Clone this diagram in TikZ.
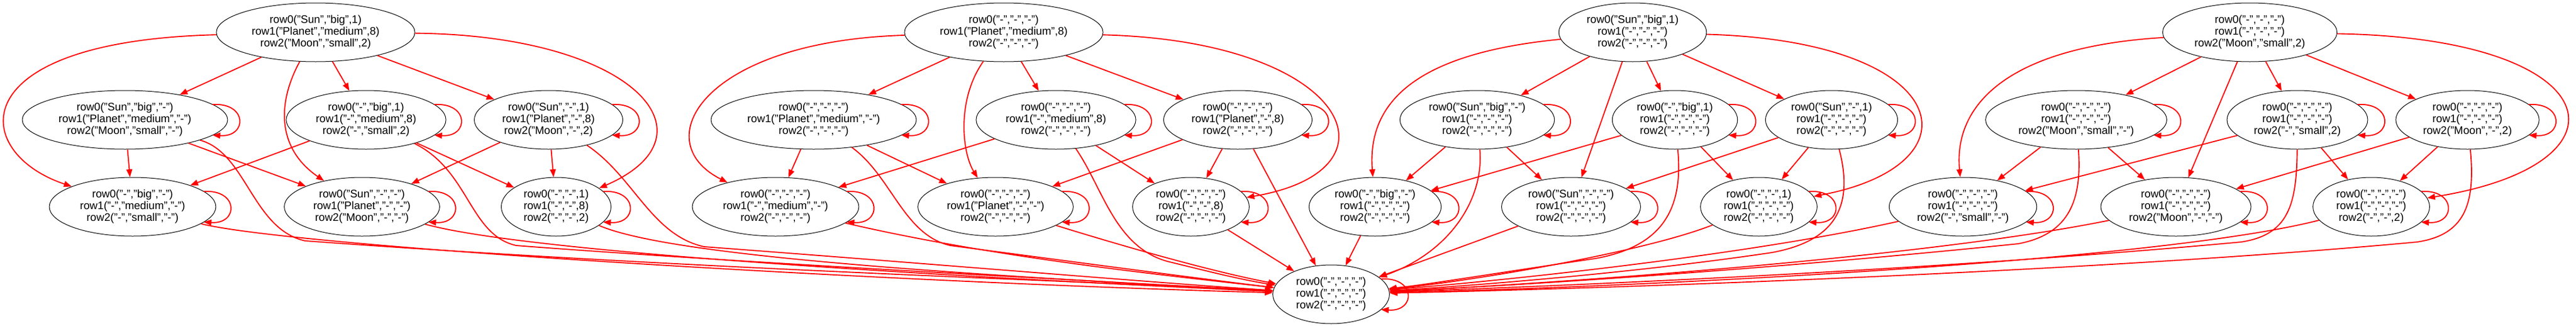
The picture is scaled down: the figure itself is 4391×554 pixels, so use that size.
\documentclass[tikz,border=0pt]{standalone}
\usepackage{fontspec}
\setmainfont{Liberation Sans}
\usetikzlibrary{arrows.meta,calc,shapes.geometric}

\newcommand{\tblrows}[3]{row0(#1)\\row1(#2)\\row2(#3)}
\def\hy{"-"}
\def\allhy{\hy,\hy,\hy}
\newcommand{\selfloop}[1]{\draw[rel] ($(#1.center)!.85!(#1.east)+(0,-26)$) .. controls +(60,-4) and +(60,4) .. ($(#1.center)!.85!(#1.east)+(0,26)$);}

\tikzset{
  tbl/.style={draw,ellipse,line width=0.75pt,align=center,inner xsep=8pt,inner ysep=4.5pt,minimum height=75pt,font=\fontsize{14}{15}\selectfont},
  rel/.style={->,red,line width=1.4pt}
}

\begin{document}
\begin{tikzpicture}[x=0.75pt,y=-0.75pt,>={Triangle[length=10pt,width=7.5pt]}]
\useasboundingbox (0,0) rectangle (4391,554);

\node[tbl] (g1t) at (538,55) {\tblrows{"Sun","big",1}{"Planet","medium",8}{"Moon","small",2}};
\node[tbl] (g1ma) at (213,204) {\tblrows{"Sun","big",\hy}{"Planet","medium",\hy}{"Moon","small",\hy}};
\node[tbl] (g1mb) at (624,204) {\tblrows{\hy,"big",1}{\hy,"medium",8}{\hy,"small",2}};
\node[tbl] (g1mc) at (935,204) {\tblrows{"Sun",\hy,1}{"Planet",\hy,8}{"Moon",\hy,2}};
\node[tbl] (g1ba) at (226,352) {\tblrows{\hy,"big",\hy}{\hy,"medium",\hy}{\hy,"small",\hy}};
\node[tbl] (g1bb) at (617,352) {\tblrows{"Sun",\hy,\hy}{"Planet",\hy,\hy}{"Moon",\hy,\hy}};
\node[tbl] (g1bc) at (948,352) {\tblrows{\hy,\hy,1}{\hy,\hy,8}{\hy,\hy,2}};

\node[tbl] (g2t) at (1711,55) {\tblrows{\allhy}{"Planet","medium",8}{\allhy}};
\node[tbl] (g2ma) at (1387,204) {\tblrows{\allhy}{"Planet","medium",\hy}{\allhy}};
\node[tbl] (g2mb) at (1800,204) {\tblrows{\allhy}{\hy,"medium",8}{\allhy}};
\node[tbl] (g2mc) at (2110,204) {\tblrows{\allhy}{"Planet",\hy,8}{\allhy}};
\node[tbl] (g2ba) at (1322,352) {\tblrows{\allhy}{\hy,"medium",\hy}{\allhy}};
\node[tbl] (g2bb) at (1697,352) {\tblrows{\allhy}{"Planet",\hy,\hy}{\allhy}};
\node[tbl] (g2bc) at (2030,352) {\tblrows{\allhy}{\hy,\hy,8}{\allhy}};

\node[tbl] (g3t) at (2783,55) {\tblrows{"Sun","big",1}{\allhy}{\allhy}};
\node[tbl] (g3ma) at (2518,204) {\tblrows{"Sun","big",\hy}{\allhy}{\allhy}};
\node[tbl] (g3mb) at (2855,204) {\tblrows{\hy,"big",1}{\allhy}{\allhy}};
\node[tbl] (g3mc) at (3122,204) {\tblrows{"Sun",\hy,1}{\allhy}{\allhy}};
\node[tbl] (g3ba) at (2344,352) {\tblrows{\hy,"big",\hy}{\allhy}{\allhy}};
\node[tbl] (g3bb) at (2678,352) {\tblrows{"Sun",\hy,\hy}{\allhy}{\allhy}};
\node[tbl] (g3bc) at (2998,352) {\tblrows{\hy,\hy,1}{\allhy}{\allhy}};

\node[tbl] (g4t) at (3835,55) {\tblrows{\allhy}{\allhy}{"Moon","small",2}};
\node[tbl] (g4ma) at (3539,204) {\tblrows{\allhy}{\allhy}{"Moon","small",\hy}};
\node[tbl] (g4mb) at (3916,204) {\tblrows{\allhy}{\allhy}{\hy,"small",2}};
\node[tbl] (g4mc) at (4206,204) {\tblrows{\allhy}{\allhy}{"Moon",\hy,2}};
\node[tbl] (g4ba) at (3346,352) {\tblrows{\allhy}{\allhy}{\hy,"small",\hy}};
\node[tbl] (g4bb) at (3709,352) {\tblrows{\allhy}{\allhy}{"Moon",\hy,\hy}};
\node[tbl] (g4bc) at (4042,352) {\tblrows{\allhy}{\allhy}{\hy,\hy,2}};

\node[tbl] (bot) at (2269,501) {\tblrows{\allhy}{\allhy}{\allhy}};

\draw[rel] (g1t) -- (g1ma);
\draw[rel] (g1t) -- (g1mb);
\draw[rel] (g1t) -- (g1mc);
\draw[rel] (g1t) .. controls (-70,70) and (-50,260) .. (g1ba);
\draw[rel] (g1t) .. controls (470,180) and (475,255) .. (g1bb);
\draw[rel] (g1t) .. controls (1080,60) and (1230,230) .. (g1bc);
\draw[rel] (g1ma) -- (g1ba);
\draw[rel] (g1ma) -- (g1bb);
\draw[rel] (g1mb) -- (g1ba);
\draw[rel] (g1mb) -- (g1bc);
\draw[rel] (g1mc) -- (g1bb);
\draw[rel] (g1mc) -- (g1bc);
\draw[rel] (g1ma) .. controls (420,260) and (430,390) .. (520,410) .. controls (1200,460) and (1900,480) .. (bot);
\draw[rel] (g1mb) .. controls (800,290) and (800,400) .. (880,418) .. controls (1300,450) and (1900,480) .. (bot);
\draw[rel] (g1mc) .. controls (1080,300) and (1110,400) .. (1200,420) .. controls (1600,450) and (1950,480) .. (bot);
\draw[rel] (g1ba) .. controls (500,420) and (1500,480) .. (bot);
\draw[rel] (g1bb) .. controls (900,430) and (1600,470) .. (bot);
\draw[rel] (g1bc) .. controls (1150,440) and (1700,470) .. (bot);

\draw[rel] (g2t) -- (g2ma);
\draw[rel] (g2t) -- (g2mb);
\draw[rel] (g2t) -- (g2mc);
\draw[rel] (g2t) .. controls (1200,70) and (1100,240) .. (g2ba);
\draw[rel] (g2t) .. controls (1630,170) and (1640,260) .. (g2bb);
\draw[rel] (g2t) .. controls (2300,70) and (2400,290) .. (g2bc);
\draw[rel] (g2ma) -- (g2ba);
\draw[rel] (g2ma) -- (g2bb);
\draw[rel] (g2mb) -- (g2ba);
\draw[rel] (g2mb) -- (g2bc);
\draw[rel] (g2mc) -- (g2bb);
\draw[rel] (g2mc) -- (g2bc);
\draw[rel] (g2ma) .. controls (1520,300) and (1540,400) .. (1620,418) .. controls (1900,455) and (2050,475) .. (bot);
\draw[rel] (g2mb) .. controls (1880,320) and (1900,420) .. (1990,445) .. controls (2060,462) and (2110,475) .. (bot);
\draw[rel] (g2mc) -- (bot);
\draw[rel] (g2ba) .. controls (1700,440) and (2000,470) .. (bot);
\draw[rel] (g2bb) .. controls (1950,430) and (2080,465) .. (bot);
\draw[rel] (g2bc) -- (bot);

\draw[rel] (g3t) -- (g3ma);
\draw[rel] (g3t) -- (g3mb);
\draw[rel] (g3t) -- (g3mc);
\draw[rel] (g3t) .. controls (2420,90) and (2330,170) .. (g3ba);
\draw[rel] (g3t) -- (g3bb);
\draw[rel] (g3t) .. controls (3330,70) and (3380,280) .. (g3bc);
\draw[rel] (g3ma) -- (g3ba);
\draw[rel] (g3ma) -- (g3bb);
\draw[rel] (g3mb) -- (g3ba);
\draw[rel] (g3mb) -- (g3bc);
\draw[rel] (g3mc) -- (g3bb);
\draw[rel] (g3mc) -- (g3bc);
\draw[rel] (g3ma) .. controls (2530,340) and (2470,430) .. (bot);
\draw[rel] (g3mb) .. controls (2870,360) and (2830,420) .. (2720,440) .. controls (2550,465) and (2430,485) .. (bot);
\draw[rel] (g3mc) .. controls (3160,350) and (3130,410) .. (3020,430) .. controls (2750,470) and (2450,490) .. (bot);
\draw[rel] (g3ba) -- (bot);
\draw[rel] (g3bb) -- (bot);
\draw[rel] (g3bc) .. controls (2800,430) and (2500,480) .. (bot);

\draw[rel] (g4t) -- (g4ma);
\draw[rel] (g4t) -- (g4mb);
\draw[rel] (g4t) -- (g4mc);
\draw[rel] (g4t) .. controls (3420,80) and (3330,180) .. (g4ba);
\draw[rel] (g4t) -- (g4bb);
\draw[rel] (g4t) .. controls (4450,65) and (4500,280) .. (g4bc);
\draw[rel] (g4ma) -- (g4ba);
\draw[rel] (g4ma) -- (g4bb);
\draw[rel] (g4mb) -- (g4ba);
\draw[rel] (g4mb) -- (g4bc);
\draw[rel] (g4mc) -- (g4bb);
\draw[rel] (g4mc) -- (g4bc);
\draw[rel] (g4ma) .. controls (3550,350) and (3520,400) .. (3440,415) .. controls (3000,460) and (2600,485) .. (bot);
\draw[rel] (g4mb) .. controls (3915,350) and (3900,400) .. (3820,412) .. controls (3300,460) and (2700,485) .. (bot);
\draw[rel] (g4mc) .. controls (4220,350) and (4200,400) .. (4120,412) .. controls (3600,460) and (2800,490) .. (bot);
\draw[rel] (g4ba) .. controls (3000,430) and (2600,475) .. (bot);
\draw[rel] (g4bb) .. controls (3300,435) and (2700,480) .. (bot);
\draw[rel] (g4bc) .. controls (3700,440) and (2900,485) .. (bot);

\selfloop{g1ma} \selfloop{g1mb} \selfloop{g1mc} \selfloop{g1ba} \selfloop{g1bb} \selfloop{g1bc}
\selfloop{g2ma} \selfloop{g2mb} \selfloop{g2mc} \selfloop{g2ba} \selfloop{g2bb} \selfloop{g2bc}
\selfloop{g3ma} \selfloop{g3mb} \selfloop{g3mc} \selfloop{g3ba} \selfloop{g3bb} \selfloop{g3bc}
\selfloop{g4ma} \selfloop{g4mb} \selfloop{g4mc} \selfloop{g4ba} \selfloop{g4bb} \selfloop{g4bc}
\selfloop{bot}
\end{tikzpicture}
\end{document}
